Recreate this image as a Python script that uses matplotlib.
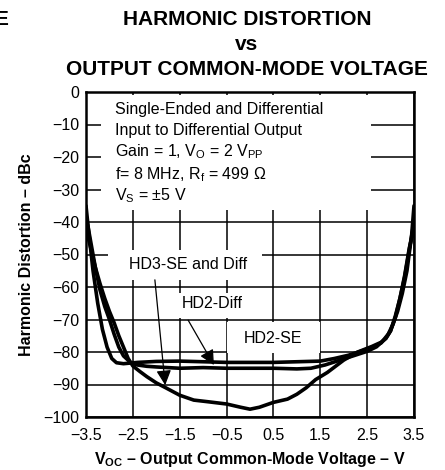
import matplotlib
matplotlib.use("Agg")
import matplotlib.pyplot as plt
from matplotlib.patches import Rectangle

plt.rcParams['font.family'] = ['Liberation Sans', 'DejaVu Sans']
plt.rcParams['mathtext.fontset'] = 'custom'
plt.rcParams['mathtext.rm'] = 'Liberation Sans'

# HD2, single-ended input (flat near -83 dBc)
voc_hd2_se = [-3.5, -3.45, -3.35, -3.25, -3.15, -3.05, -2.95, -2.85, -2.7, -2.4, -2.0, -1.5, -1.0,
              -0.5, 0.0, 0.5, 1.0, 1.5, 1.8, 2.1, 2.4, 2.6, 2.8, 2.95, 3.05, 3.15, 3.25, 3.35, 3.45, 3.5]
hd2_se = [-35, -42, -55, -65, -73, -78.5, -82, -83.3, -83.6, -83.2, -82.9, -82.8, -83.0,
          -83.2, -83.2, -83.2, -83.0, -82.8, -82.0, -81.0, -79.6, -78.6, -77.2, -74.5, -71.5, -67.5,
          -62, -55, -44, -35]

# HD2, differential input (flat near -85 dBc)
voc_hd2_diff = [-3.5, -3.4, -3.3, -3.2, -3.1, -3.0, -2.9, -2.8, -2.7, -2.55, -2.4, -2.2, -2.0, -1.5,
                -1.0, -0.5, 0.0, 0.5, 1.0, 1.3, 1.6, 1.9, 2.2, 2.5, 2.7, 2.9, 3.0, 3.1, 3.2, 3.3,
                3.4, 3.5]
hd2_diff = [-38, -46, -54, -61, -66, -70, -74.5, -78.5, -81.2, -83.2, -84.0, -84.4, -84.6, -85.0,
            -84.8, -85.0, -85.0, -85.0, -85.2, -85.0, -84.0, -82.6, -81.2, -79.8, -78.4, -75.8,
            -73.5, -69, -63.5, -57, -48.5, -40]

# HD3, single-ended and differential
voc_hd3 = [-3.5, -3.4, -3.3, -3.2, -3.1, -3.0, -2.9, -2.8, -2.7, -2.6, -2.5, -2.35, -2.2, -2.0,
           -1.8, -1.5, -1.2, -0.9, -0.5, -0.2, 0.0, 0.2, 0.5, 0.8, 1.0, 1.2, 1.4, 1.65, 2.0, 2.3,
           2.6, 2.8, 2.9, 3.0, 3.1, 3.2, 3.3, 3.4, 3.5]
hd3 = [-42, -48, -54, -59, -63.5, -67.5, -71, -75, -78.5, -82, -84.3, -86, -87.6, -89.5,
       -91, -93.3, -94.8, -95.3, -96, -97, -97.6, -97, -95.5, -94.5, -93, -91, -88.5, -86.3, -82.5,
       -80, -78.3, -77, -75.8, -73.5, -69.5, -63.5, -56.5, -48, -42]

x_ticks = [-3.5, -2.5, -1.5, -0.5, 0.5, 1.5, 2.5, 3.5]
y_ticks = [0, -10, -20, -30, -40, -50, -60, -70, -80, -90, -100]

conditions = ['Single-Ended and Differential',
              'Input to Differential Output',
              r'Gain = 1, V$_\mathregular{O}$ = 2 V$_\mathregular{PP}$',
              r'f= 8 MHz, R$_\mathregular{f}$ = 499 $\mathregular{\Omega}$',
              r'V$_\mathregular{S}$ = $\mathregular{\pm}$5 V']

fig = plt.figure(figsize=(4.45, 4.7), dpi=100)
ax = fig.add_axes([86 / 445, 53 / 470, 328 / 445, 325 / 470])

ax.set_xlim(-3.5, 3.5)
ax.set_ylim(-100, 0)
ax.set_xticks(x_ticks)
ax.set_xticklabels([f'{v:g}'.replace('-', '\u2212') for v in x_ticks])
ax.set_yticks(y_ticks)
ax.set_yticklabels([f'{v:g}'.replace('-', '\u2212') for v in y_ticks])
ax.tick_params(length=0, labelsize=11.5, colors='black')
ax.tick_params(axis='x', pad=8)
ax.tick_params(axis='y', pad=5)
ax.grid(True, color='black', lw=1.1)
ax.set_axisbelow(True)
for s in ax.spines.values():
    s.set_linewidth(1.8)
    s.set_zorder(6)

# white panels behind the annotations hide the grid
for (x0, y0, x1, y1) in [(-3.18, -36.3, 2.58, -0.8),
                         (-3.03, -57.8, 0.26, -48.6),
                         (-1.56, -69.5, -0.06, -61.8),
                         (-0.49, -80.4, 1.49, -70.8)]:
    ax.add_patch(Rectangle((x0, y0), x1 - x0, y1 - y0, facecolor='white',
                           edgecolor='none', zorder=1.5))

for xs, ys in [(voc_hd2_se, hd2_se), (voc_hd2_diff, hd2_diff), (voc_hd3, hd3)]:
    ax.plot(xs, ys, color='black', lw=2.6, solid_joinstyle='round',
            solid_capstyle='round', zorder=3, clip_on=True)

line_y = [-5.5, -12, -18.5, -25.5, -32]
for txt, yy in zip(conditions, line_y):
    ax.text(-2.88, yy, txt, fontsize=11.5, ha='left', va='center', zorder=4)

ax.text(-1.32, -53.2, 'HD3-SE and Diff', fontsize=11.5, ha='center', va='center', zorder=4)
ax.text(-0.81, -65.2, 'HD2-Diff', fontsize=11.5, ha='center', va='center', zorder=4)
ax.text(0.49, -75.7, 'HD2-SE', fontsize=11.5, ha='center', va='center', zorder=4)

arrow = dict(arrowstyle='-|>,head_length=0.6,head_width=0.3', color='black',
             lw=0.9, mutation_scale=15, shrinkA=0, shrinkB=0)
ax.annotate('', xy=(-1.81, -90.2), xytext=(-2.03, -57.8), arrowprops=arrow, zorder=5)
ax.annotate('', xy=(-0.77, -84.0), xytext=(-1.32, -70.2), arrowprops=arrow, zorder=5)

ax.set_xlabel(r'V$_\mathregular{OC}$ \u2013 Output Common-Mode Voltage \u2013 V'.replace('\\u2013', '\u2013'),
              fontsize=11.5, fontweight='bold')
ax.xaxis.set_label_coords(0.5, -0.132)
ax.xaxis.label.set_va('center')
ax.set_ylabel('Harmonic Distortion \u2013 dBc', fontsize=11.5, fontweight='bold')
ax.yaxis.set_label_coords(-0.18, 0.5)
ax.yaxis.label.set_va('center')

fig.text(247 / 445, 1 - 25 / 470, 'HARMONIC DISTORTION', fontsize=15, fontweight='bold',
         ha='center', va='baseline')
fig.text(247 / 445, 1 - 50 / 470, 'vs', fontsize=15, fontweight='bold',
         ha='center', va='baseline')
fig.text(247 / 445, 1 - 75 / 470, 'OUTPUT COMMON-MODE VOLTAGE', fontsize=15, fontweight='bold',
         ha='center', va='baseline')
fig.text(8 / 445, 1 - 25 / 470, 'E', fontsize=15, fontweight='bold', ha='right', va='baseline')

fig.savefig('out.png', dpi=100)
